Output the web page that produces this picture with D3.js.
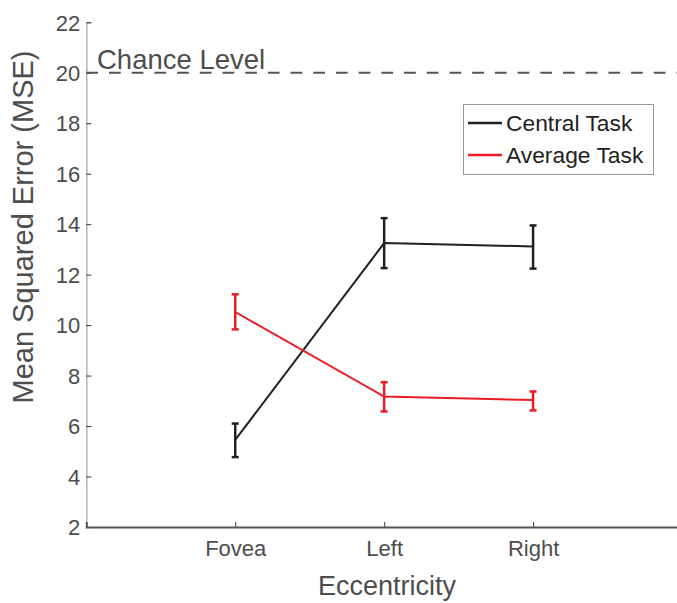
<!DOCTYPE html>
<html>
<head>
<meta charset="utf-8">
<script src="https://cdn.jsdelivr.net/npm/d3@7"></script>
<style>
  body { margin: 0; background: #fff; }
  svg { display: block; font-family: "Liberation Sans", "DejaVu Sans", sans-serif; }
</style>
</head>
<body>
<svg id="chart" width="677" height="603"></svg>
<script>
// data
var categories = ["Fovea", "Left", "Right"];
var centralMean = [5.45, 13.25, 13.12];
var centralLow = [4.77, 12.26, 12.24];
var centralHigh = [6.1, 14.24, 13.95];
var averageMean = [10.52, 7.17, 7.03];
var averageLow = [9.83, 6.58, 6.62];
var averageHigh = [11.22, 7.74, 7.37];
var yTicks = [2, 4, 6, 8, 10, 12, 14, 16, 18, 20, 22];
var chanceLevel = 20;

var svg = d3.select("#chart");
var width = 677, height = 603;

var x = d3.scaleLinear().domain([0, 4]).range([86.3, 682]);
var y = d3.scaleLinear().domain([2, 22]).range([527, 22.3]);

var textCol = "#4d4d4d";

// y axis
var yAxis = svg.append("g").attr("transform", "translate(" + x(0) + ",0)")
    .call(d3.axisRight(y).tickValues(yTicks).tickSize(5).tickFormat(d3.format("d")));
yAxis.select(".domain").attr("stroke", "#b3b3b3").attr("stroke-width", 1.5);
yAxis.selectAll(".tick line").attr("stroke", "#333");
yAxis.selectAll(".tick text")
    .attr("x", -6).attr("text-anchor", "end")
    .attr("fill", textCol).style("font-size", "22px").attr("dy", "0.35em");

// x axis
var xAxis = svg.append("g").attr("transform", "translate(0," + y(2) + ")")
    .call(d3.axisTop(x).tickValues([1, 2, 3]).tickSize(5)
        .tickFormat(function (d) { return categories[d - 1]; }));
xAxis.select(".domain").attr("stroke", "#555").attr("stroke-width", 2);
xAxis.selectAll(".tick line").attr("stroke", "#444");
xAxis.selectAll(".tick text")
    .attr("y", 29).attr("dy", 0)
    .attr("fill", textCol).style("font-size", "22px");

// axis labels
svg.append("text")
    .attr("x", 387).attr("y", 595)
    .attr("text-anchor", "middle").attr("fill", textCol)
    .style("font-size", "27px").text("Eccentricity");

svg.append("text")
    .attr("transform", "translate(33,227) rotate(-90)")
    .attr("text-anchor", "middle").attr("fill", textCol)
    .style("font-size", "29px").text("Mean Squared Error (MSE)");

// chance level
svg.append("line")
    .attr("x1", x(0)).attr("x2", width)
    .attr("y1", y(chanceLevel)).attr("y2", y(chanceLevel))
    .attr("stroke", "#555").attr("stroke-width", 2)
    .attr("stroke-dasharray", "11.7,11");

svg.append("text")
    .attr("x", 97).attr("y", y(chanceLevel) - 4)
    .attr("fill", textCol).style("font-size", "27.5px").text("Chance Level");

// series
var series = [
    {name: "Central Task", color: "#231f20", mean: centralMean, low: centralLow, high: centralHigh},
    {name: "Average Task", color: "#ed1c24", mean: averageMean, low: averageLow, high: averageHigh}
];

var line = d3.line()
    .x(function (d, i) { return x(i + 1); })
    .y(function (d) { return y(d); });

series.forEach(function (s) {
    svg.append("path")
        .datum(s.mean)
        .attr("d", line)
        .attr("fill", "none")
        .attr("stroke", s.color)
        .attr("stroke-width", 2);

    var eb = svg.append("g").selectAll("g")
        .data(categories)
        .enter().append("g");

    eb.append("line")
        .attr("x1", function (d, i) { return x(i + 1); })
        .attr("x2", function (d, i) { return x(i + 1); })
        .attr("y1", function (d, i) { return y(s.low[i]); })
        .attr("y2", function (d, i) { return y(s.high[i]); })
        .attr("stroke", s.color).attr("stroke-width", 2.5);

    [s.low, s.high].forEach(function (arr) {
        eb.append("line")
            .attr("x1", function (d, i) { return x(i + 1) - 3.5; })
            .attr("x2", function (d, i) { return x(i + 1) + 3.5; })
            .attr("y1", function (d, i) { return y(arr[i]); })
            .attr("y2", function (d, i) { return y(arr[i]); })
            .attr("stroke", s.color).attr("stroke-width", 2.5);
    });
});

// legend
var legend = svg.append("g");
legend.append("rect")
    .attr("x", 463.5).attr("y", 104.5)
    .attr("width", 190).attr("height", 70)
    .attr("fill", "#fff").attr("stroke", "#999").attr("stroke-width", 1);

var items = legend.selectAll("g.item")
    .data(series)
    .enter().append("g")
    .attr("class", "item")
    .attr("transform", function (d, i) { return "translate(0," + (123 + i * 32) + ")"; });

items.append("line")
    .attr("x1", 468).attr("x2", 502)
    .attr("y1", 0).attr("y2", 0)
    .attr("stroke", function (d) { return d.color; })
    .attr("stroke-width", 2.5);

items.append("text")
    .attr("x", 506).attr("y", 0).attr("dy", "0.35em")
    .attr("fill", "#231f20").style("font-size", "22.8px")
    .text(function (d) { return d.name; });
</script>
</body>
</html>
